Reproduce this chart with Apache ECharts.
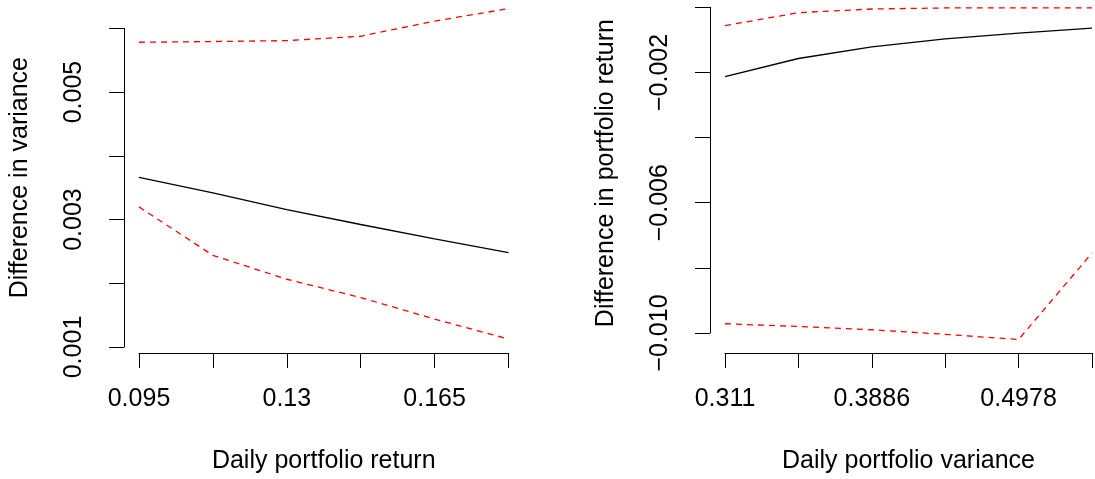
<!DOCTYPE html>
<html>
<head>
<meta charset="utf-8">
<script src="https://cdn.jsdelivr.net/npm/echarts@6/dist/echarts.min.js"></script>
<style>html,body{margin:0;padding:0;background:#fff}#c{width:1095px;height:479px}</style>
</head>
<body>
<div id="c"></div>
<script>
// Left panel data
const leftX = ["0.095", "0.1125", "0.13", "0.1475", "0.165", "0.1825"];
const leftXShown = ["0.095", "", "0.13", "", "0.165", ""];
const leftYTicks = ["0.001", "", "0.003", "", "0.005", ""];
const leftMid = [0.003661, 0.003417, 0.003156, 0.002922, 0.002698, 0.00248];
const leftUpper = [0.005781, 0.005792, 0.005807, 0.005875, 0.006114, 0.006308];
const leftLower = [0.003198, 0.002438, 0.002063, 0.001776, 0.001438, 0.001125];

// Right panel data
const rightX = ["0.311", "", "0.3886", "", "0.4978", ""];
const rightYTicks = ["\u22120.010", "", "\u22120.006", "", "\u22120.002", ""];
const rightMid = [-0.002131, -0.001572, -0.001214, -0.000969, -0.000795, -0.000642];
const rightUpper = [-0.000563, -0.000165, -0.000052, -0.00002, -0.00002, -0.00002];
const rightLower = [-0.009716, -0.0098, -0.0099, -0.01004, -0.0102, -0.007544];

const FONT = 'Liberation Sans, Arial, sans-serif';
const FS = 25;
const black = '#000000';

function xAxisCfg(gridIndex, data, name, offset) {
  return {
    type: 'category', gridIndex, data, boundaryGap: false, position: 'bottom', offset,
    name, nameLocation: 'middle', nameGap: 96,
    nameTextStyle: { fontFamily: FONT, fontSize: FS, color: black },
    axisLine: { show: true, onZero: false, lineStyle: { color: black, width: 1 } },
    axisTick: { show: true, length: 15, interval: 0, lineStyle: { color: black, width: 1 } },
    axisLabel: { interval: 0, margin: 34, fontFamily: FONT, fontSize: FS, color: black,
      formatter: (v, i) => (gridIndex === 0 ? leftXShown[i] : rightX[i]) },
    splitLine: { show: false }
  };
}
function yAxisCfg(gridIndex, min, max, interval, ticks, name, pad) {
  return {
    type: 'value', gridIndex, min, max, interval, offset: 15,
    name, nameLocation: 'middle', nameGap: 91, nameRotate: 90,
    nameTextStyle: { fontFamily: FONT, fontSize: FS, color: black, padding: pad },
    axisLine: { show: true, onZero: false, lineStyle: { color: black, width: 1 } },
    axisTick: { show: true, length: 15, lineStyle: { color: black, width: 1 } },
    axisLabel: { rotate: 90, margin: 37, fontFamily: FONT, fontSize: FS, color: black,
      formatter: (v, i) => ticks[i] },
    splitLine: { show: false }
  };
}
function line(xi, data, dashed) {
  return {
    type: 'line', xAxisIndex: xi, yAxisIndex: xi, data, symbol: 'none', clip: false,
    silent: true,
    lineStyle: dashed ? { color: '#ff0000', width: 1.3, type: [6, 5] } : { color: black, width: 1.3 }
  };
}

const chart = echarts.init(document.getElementById('c'), null, { renderer: 'canvas' });
chart.setOption({
  animation: false,
  backgroundColor: '#ffffff',
  grid: [
    { left: 139, top: 28.3, width: 369.5, height: 319.7 },
    { left: 725, top: 7.3, width: 369.3, height: 327 }
  ],
  xAxis: [
    xAxisCfg(0, leftX, 'Daily portfolio return', 6),
    xAxisCfg(1, rightX, 'Daily portfolio variance', 20)
  ],
  yAxis: [
    yAxisCfg(0, 0.001, 0.006, 0.001, leftYTicks, 'Difference in variance', [0, 0, 0, 20]),
    yAxisCfg(1, -0.010, 0, 0.002, rightYTicks, 'Difference in portfolio return', [0, 6, 0, 0])
  ],
  series: [
    line(0, leftMid, false), line(0, leftUpper, true), line(0, leftLower, true),
    line(1, rightMid, false), line(1, rightUpper, true), line(1, rightLower, true)
  ]
});
</script>
</body>
</html>
